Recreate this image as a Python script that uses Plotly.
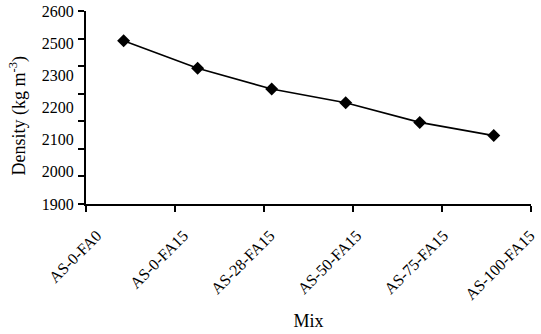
import plotly.graph_objects as go

mixes = ["AS-0-FA0", "AS-0-FA15", "AS-28-FA15", "AS-50-FA15", "AS-75-FA15", "AS-100-FA15"]
density = [2492, 2392, 2317, 2267, 2196, 2148]
y_tick_values = [1900, 2000, 2100, 2200, 2300, 2400, 2500, 2600]
y_tick_labels = ["1900", "2000", "2100", "2200", "2300", "2500", "2600"]

FONT = "Liberation Serif"
idx = list(range(len(mixes)))

fig = go.Figure()
fig.add_trace(go.Scatter(
    x=idx, y=density, mode="lines+markers",
    line=dict(color="black", width=1.6),
    marker=dict(symbol="diamond", size=10, color="black"),
    xaxis="x", yaxis="y", showlegend=False, hoverinfo="skip",
))
# invisible helper traces to activate the tick / label axes
for xa, ya in (("x2", "y2"), ("x3", "y2")):
    fig.add_trace(go.Scatter(x=[0], y=[0], mode="markers", marker=dict(opacity=0),
                             xaxis=xa, yaxis=ya, showlegend=False, hoverinfo="skip"))

fig.update_layout(
    width=541, height=334,
    margin=dict(l=86, r=3, t=11, b=130),
    paper_bgcolor="white", plot_bgcolor="white",
    font=dict(family=FONT, size=16, color="black"),
    xaxis=dict(range=[-0.508, 5.503], visible=False, fixedrange=True),
    # tick marks and axis line
    xaxis2=dict(
        overlaying="x", anchor="y", side="bottom", range=[-0.0001, 5.0001],
        tickmode="array", tickvals=idx, showticklabels=False,
        ticks="outside", ticklen=6, tickwidth=1.5, tickcolor="black",
        showline=True, linecolor="black", linewidth=1.5,
        showgrid=False, zeroline=False,
    ),
    # category labels
    xaxis3=dict(
        overlaying="x", anchor="y", side="bottom", range=[-0.125, 5.011],
        tickmode="array", tickvals=idx, ticktext=mixes, tickangle=-45,
        ticks="outside", ticklen=15, tickcolor="rgba(0,0,0,0)",
        showline=False, showgrid=False, zeroline=False, ticklabeloverflow="allow",
        tickfont=dict(family=FONT, size=16),
        title=dict(text="Mix", font=dict(size=18, family=FONT), standoff=12),
    ),
    yaxis=dict(
        range=[1900, 2600], tickmode="array", tickvals=y_tick_values,
        showticklabels=False, ticks="outside", ticklen=6, tickwidth=1.5, tickcolor="black",
        showline=True, linecolor="black", linewidth=1.5,
        showgrid=False, zeroline=False,
    ),
    yaxis2=dict(
        overlaying="y", anchor="x", side="left", range=[-0.0001, len(y_tick_labels) - 1 + 0.0001],
        tickmode="array", tickvals=list(range(len(y_tick_labels))), ticktext=y_tick_labels,
        ticks="outside", ticklen=8, tickcolor="rgba(0,0,0,0)",
        showline=False, showgrid=False, zeroline=False,
        tickfont=dict(family=FONT, size=16),
    ),
    annotations=[dict(
        text="Density (kg m<sup>-3</sup>)", textangle=-90,
        xref="paper", yref="paper", x=0, y=0.5, xanchor="center", yanchor="middle",
        xshift=-68, yshift=-8, showarrow=False, font=dict(size=18, family=FONT),
    )],
)

fig.write_html("out.html")
